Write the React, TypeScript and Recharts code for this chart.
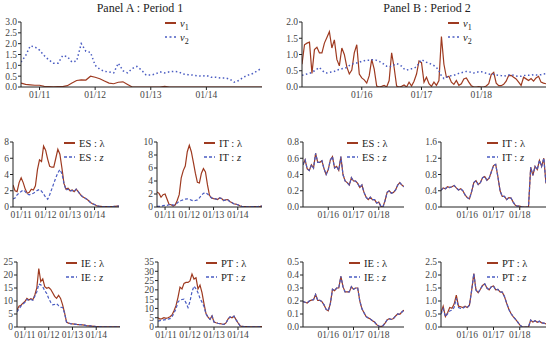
import React from "react";
import { LineChart, Line, XAxis, YAxis } from "recharts";

// Period 1: monthly points from Sep 2010; Period 2: from Jan 2015
const P1_START = 2010 + 8 / 12;
const P1_END = 2015;
const P2_START = 2015;

const P1_TICKS = [2011, 2012, 2013, 2014];
const P2_TICKS = [2016, 2017, 2018];

// Panel A, top: v1 / v2 (monthly)
const A_V1 = [
  0.18, 0.12, 0.1, 0.08, 0.08, 0.03, 0.02, 0.01, 0.02, 0.02,
  0.06, 0.18, 0.3, 0.33, 0.32, 0.5, 0.45, 0.38, 0.28, 0.18,
  0.15, 0.22, 0.24, 0.12, 0, 0, 0, 0, 0, 0,
  0, 0.03, 0, 0, 0, 0, 0, 0, 0, 0,
  0, 0, 0, 0, 0, 0, 0, 0, 0, 0,
  0, 0, 0,
];
const A_V2 = [
  1.15, 1.45, 1.9, 1.85, 1.7, 1.45, 1.25, 1.1, 1.1, 1.45,
  1.4, 1.15, 1.2, 2.0, 1.65, 1.6, 1.0, 0.82, 0.72, 0.7,
  0.65, 1.1, 0.75, 0.65, 0.85, 0.95, 0.78, 0.55, 0.55, 0.6,
  0.7, 0.65, 0.7, 0.72, 0.7, 0.6, 0.57, 0.55, 0.52, 0.5,
  0.53, 0.45, 0.45, 0.42, 0.42, 0.37, 0.22, 0.3, 0.45, 0.55,
  0.62, 0.75, 0.88,
];

// Panel B, top: v1 / v2 (twice a month)
const B_V1 = [
  0.7, 1.3, 1.35, 1.38, 0.42, 1.15, 1.22, 1.05, 1.05, 1.35,
  1.52, 1.7, 1.2, 1.45, 0.85, 0.65, 1.2, 1.0, 0.62, 0.4,
  0.52, 1.05, 1.3, 0.4, 0.28, 0.22, 0.12, 0.35, 0.85, 0.55,
  0.03, 0.0, 0.02, 0.05, 0.0, 0.2, 1.05, 0.6, 0.03, 0.0,
  0.02, 0.06, 0.0, 0.15, 0.03, 0.18, 0.4, 0.8, 0.75, 0.15,
  0.3, 0.1, 0.02, 0.15, 0.05, 0.2, 1.55, 0.7, 0.3, 0.33,
  0.15, 0.08, 0.2, 0.05, 0.1, 0.25, 0.28, 0.15, 0.04, 0.0,
  0.0, 0.01, 0.0, 0.0, 0.03, 0.1, 0.38, 0.45, 0.12, 0.04,
  0.04, 0.08, 0.18, 0.35, 0.36, 0.3, 0.25, 0.15, 0.05, 0.3,
  0.25, 0.2, 0.26, 0.18, 0.28, 0.33, 0.15, 0.12, 0.1,
];
const B_V2 = [
  0.36, 0.38, 0.4, 0.42, 0.45, 0.5, 0.55, 0.6, 0.52, 0.45,
  0.43, 0.45, 0.46, 0.48, 0.52, 0.54, 0.56, 0.58, 0.6, 0.66,
  0.7, 0.73, 0.74, 0.76, 0.79, 0.81, 0.82, 0.82, 0.84, 0.84,
  0.82, 0.79, 0.74, 0.7, 0.64, 0.62, 0.64, 0.68, 0.72, 0.69,
  0.64, 0.56, 0.52, 0.54, 0.56, 0.58, 0.62, 0.74, 0.84, 0.8,
  0.76, 0.73, 0.7, 0.66, 0.6, 0.5, 0.34, 0.26, 0.3, 0.33,
  0.35, 0.36, 0.39, 0.42, 0.44, 0.46, 0.48, 0.47, 0.45, 0.43,
  0.45, 0.47, 0.47, 0.45, 0.42, 0.4, 0.39, 0.39, 0.37, 0.36,
  0.35, 0.33, 0.35, 0.37, 0.38, 0.36, 0.34, 0.33, 0.33, 0.35,
  0.36, 0.36, 0.36, 0.38, 0.37, 0.37, 0.38, 0.4, 0.41,
];

// Period 1 countries (monthly): lambda and z
const ES_L1 = [
  2.7, 2.0, 1.9, 3.0, 3.6, 3.0, 2.2, 1.7, 1.8, 2.2,
  2.1, 2.6, 4.6, 5.8, 5.6, 7.5, 7.0, 5.9, 5.0, 4.9,
  4.9, 6.0, 7.1, 6.5, 4.8, 2.9, 2.2, 2.3, 2.0, 2.1,
  1.9, 2.2, 1.9, 1.55, 1.3, 1.15, 1.0, 0.8, 0.55, 0.4,
  0.3, 0.15, 0.1, 0.08, 0.05, 0.04, 0.04, 0.05, 0.05, 0.06,
  0.08, 0.1, 0.1,
];
const ES_Z1 = [
  1.0, 1.1, 1.5, 1.7, 1.9, 2.1, 1.9, 1.6, 1.5, 1.6,
  1.7, 1.85, 2.05, 2.15, 1.95, 1.6, 1.2, 0.95, 1.5, 2.2,
  2.9, 3.6, 4.2, 4.6, 4.1, 2.9, 2.1, 2.2, 1.95, 2.05,
  1.9, 2.2, 1.9, 1.5, 1.3, 1.15, 1.0, 0.8, 0.55, 0.4,
  0.3, 0.15, 0.1, 0.08, 0.05, 0.04, 0.04, 0.05, 0.05, 0.06,
  0.08, 0.1, 0.1,
];
const IT_L1 = [
  2.3, 2.1, 1.5, 1.9, 2.0, 1.2, 0.4, 0.35, 0.15, 0.3,
  1.0, 1.9, 4.5, 5.6, 6.3, 8.5, 9.5, 8.5, 6.9, 5.2,
  3.8, 3.7, 5.2, 5.9, 5.4, 3.4, 1.8, 1.4, 1.3, 1.25,
  1.15, 1.4, 1.3, 1.0, 1.1, 1.15, 0.85, 0.7, 0.5, 0.45,
  0.35, 0.2, 0.1, 0.05, 0.05, 0.04, 0.04, 0.05, 0.05, 0.06,
  0.08, 0.1, 0.15,
];
const IT_Z1 = [
  0.1, 0.1, 0.1, 0.2, 0.25, 0.26, 0.35, 0.38, 0.3, 0.35,
  0.6, 0.9, 1.0, 1.1, 1.2, 1.25, 1.2, 1.05, 0.95, 1.0,
  1.1, 1.4, 1.8, 2.1, 2.2, 2.0, 1.7, 1.4, 1.3, 1.25,
  1.15, 1.4, 1.3, 1.0, 1.1, 1.15, 0.85, 0.7, 0.5, 0.45,
  0.35, 0.2, 0.1, 0.05, 0.05, 0.04, 0.04, 0.05, 0.05, 0.06,
  0.08, 0.1, 0.15,
];
const IE_L1 = [
  6.5, 8.0, 8.4, 9.2, 9.8, 11.0, 10.4, 10.9, 10.5, 12.3,
  15.0, 22.5, 17.5, 18.5, 15.5, 14.9, 15.2, 14.5, 13.2, 11.8,
  11.0, 12.2, 11.0, 8.6, 5.5, 1.9, 1.5, 1.3, 1.2, 1.1,
  1.0, 0.95, 0.9, 0.85, 0.7, 0.55, 0.45, 0.4, 0.3, 0.25,
  0.2, 0.15, 0.12, 0.1, 0.1, 0.08, 0.08, 0.1, 0.1, 0.1,
  0.1, 0.1, 0.1,
];
const IE_Z1 = [
  5.8, 7.0, 8.0, 8.8, 9.5, 10.6, 10.2, 10.6, 10.3, 11.8,
  13.5, 16.5, 16.2, 15.5, 14.0, 12.9, 11.0, 9.5, 8.5, 8.7,
  9.0, 8.2, 7.6, 7.5, 5.4, 1.9, 1.5, 1.3, 1.2, 1.1,
  1.0, 0.95, 0.9, 0.85, 0.7, 0.55, 0.45, 0.4, 0.3, 0.25,
  0.2, 0.15, 0.12, 0.1, 0.1, 0.08, 0.08, 0.1, 0.1, 0.1,
  0.1, 0.1, 0.1,
];
const PT_L1 = [
  5.0, 4.3, 4.5, 5.0, 4.7, 5.0, 5.5, 6.5, 8.8, 11.5,
  16.0, 21.5, 20.5, 23.5, 24.0, 24.0, 24.8, 28.5, 25.8, 26.5,
  20.5, 22.5, 18.5, 12.5, 7.2, 5.3, 4.2, 6.0, 2.7, 2.3,
  2.0, 1.8, 1.6, 1.45, 2.2, 4.2, 5.4, 5.0, 5.8, 4.0,
  2.3, 0.7, 0.3, 0.2, 0.15, 0.15, 0.1, 0.1, 0.1, 0.12,
  0.12, 0.15, 0.15,
];
const PT_Z1 = [
  3.2, 3.4, 3.6, 3.8, 4.0, 4.2, 4.5, 5.5, 7.5, 9.8,
  13.5, 14.5, 14.8, 15.0, 13.0, 10.5, 13.8, 19.0, 22.0, 20.5,
  18.5, 15.4, 13.4, 11.0, 7.0, 5.3, 4.2, 6.0, 2.7, 2.3,
  2.0, 1.8, 1.6, 1.45, 2.2, 4.2, 5.4, 5.0, 5.8, 4.0,
  2.3, 0.7, 0.3, 0.2, 0.15, 0.15, 0.1, 0.1, 0.1, 0.12,
  0.12, 0.15, 0.15,
];

// Period 2 countries (monthly); lambda and z lie on top of each other here
const ES_L2 = [
  0.52, 0.58, 0.47, 0.45, 0.52, 0.48, 0.66, 0.55, 0.55, 0.57,
  0.47, 0.4, 0.46, 0.58, 0.62, 0.48, 0.5, 0.45, 0.62, 0.4,
  0.32, 0.3, 0.27, 0.36, 0.32, 0.32, 0.29, 0.24, 0.27, 0.18,
  0.12, 0.09, 0.12, 0.09, 0.09, 0.05, 0.06, 0.01, 0.0, 0.08,
  0.18, 0.2, 0.17, 0.18, 0.21, 0.27, 0.3, 0.27, 0.25,
];
const ES_Z2 = ES_L2;
const IT_L2 = [
  0.41, 0.47, 0.45, 0.5, 0.48, 0.5, 0.53, 0.47, 0.42, 0.45,
  0.4, 0.3, 0.23, 0.2, 0.38, 0.6, 0.65, 0.55, 0.6, 0.72,
  0.75, 0.66, 0.71, 0.86, 1.02, 1.05, 0.75, 0.4, 0.26, 0.26,
  0.18, 0.23, 0.22, 0.12, 0.04, 0.02, 0.02, 0, 0, 0,
  0, 0.98, 0.78, 1.0, 0.92, 1.15, 1.0, 1.2, 0.58,
];
const IT_Z2 = IT_L2;
const IE_L2 = [
  0.195, 0.19, 0.185, 0.2, 0.207, 0.21, 0.25, 0.205, 0.205, 0.195,
  0.17, 0.135, 0.125, 0.18, 0.29, 0.28, 0.3, 0.3, 0.39, 0.31,
  0.27, 0.27, 0.27, 0.31, 0.29, 0.3, 0.3, 0.2, 0.14, 0.11,
  0.08, 0.07, 0.062, 0.048, 0.038, 0.018, 0.008, 0.003, 0.01, 0.03,
  0.055, 0.064, 0.058, 0.066, 0.085, 0.1, 0.098, 0.115, 0.13,
];
const IE_Z2 = IE_L2;
const PT_L2 = [
  0.55, 0.8, 0.4, 0.55, 0.75, 0.72, 0.88, 1.23, 0.8, 0.78,
  0.75, 0.8, 0.75, 0.84, 1.4, 2.05, 1.42, 1.32, 1.45, 1.6,
  1.66, 1.5, 1.43, 1.55, 1.58, 1.43, 1.45, 1.35, 1.34, 1.17,
  0.92, 0.68, 0.52, 0.4, 0.3, 0.2, 0.08, 0.01, 0, 0,
  0, 0.27, 0.19, 0.24, 0.18, 0.22, 0.16, 0.15, 0.12,
];
const PT_Z2 = [
  0.5, 0.7, 0.4, 0.5, 0.62, 0.65, 0.75, 1.1, 0.75, 0.72,
  0.72, 0.78, 0.75, 0.84, 1.4, 2.05, 1.42, 1.32, 1.45, 1.6,
  1.66, 1.5, 1.43, 1.55, 1.58, 1.43, 1.45, 1.35, 1.34, 1.17,
  0.92, 0.68, 0.52, 0.4, 0.3, 0.2, 0.08, 0.01, 0, 0,
  0, 0.27, 0.19, 0.24, 0.18, 0.22, 0.16, 0.15, 0.12,
];

const RED = "#9e3a20";
const BLUE = "#4a5cc2";
const FONT = "Liberation Serif, DejaVu Serif, serif";
const TICK = { fontSize: 9.5, fill: "#444", fontFamily: FONT };

function rows(start: number, perYear: number, a: number[], b: number[]) {
  return a.map((v, i) => ({ t: start + i / perYear, a: v, b: b[i] }));
}

const yearLabel = (v: number) => "01/" + String(v % 100).padStart(2, "0");

interface PanelProps {
  left: number;
  top: number;
  w: number;
  h: number;
  data: { t: number; a: number; b: number }[];
  xDomain: [number, number];
  xTicks: number[];
  yTicks: number[];
  digits: number;
  bDash: string;
  bWidth: number;
}

const YW = 30;
const MT = 8;

function Panel(p: PanelProps) {
  const yMax = p.yTicks[p.yTicks.length - 1];
  return (
    <div style={{ position: "absolute", left: p.left - YW, top: p.top - MT }}>
      <LineChart
        width={YW + p.w + 8}
        height={MT + p.h + 24}
        data={p.data}
        margin={{ top: MT, right: 8, bottom: 0, left: 0 }}
        style={{ fontFamily: FONT }}
      >
        <XAxis
          dataKey="t"
          type="number"
          domain={p.xDomain}
          ticks={p.xTicks}
          interval={0}
          tickFormatter={yearLabel}
          height={24}
          tickSize={3}
          tickMargin={1}
          stroke="#222"
          tick={TICK}
          allowDataOverflow
        />
        <YAxis
          type="number"
          domain={[0, yMax]}
          ticks={p.yTicks}
          interval={0}
          width={YW}
          tickSize={3}
          tickMargin={1}
          stroke="#222"
          tickFormatter={(v: number) => v.toFixed(p.digits)}
          tick={TICK}
          allowDataOverflow
        />
        <Line
          dataKey="a"
          type="linear"
          stroke={RED}
          strokeWidth={1.2}
          dot={false}
          isAnimationActive={false}
        />
        <Line
          dataKey="b"
          type="linear"
          stroke={BLUE}
          strokeWidth={p.bWidth}
          strokeDasharray={p.bDash}
          dot={false}
          isAnimationActive={false}
        />
      </LineChart>
    </div>
  );
}

function Key({ x, y, items }: { x: number; y: number; items: { label: React.ReactNode; dash?: string; color: string; w: number }[] }) {
  return (
    <svg
      style={{ position: "absolute", left: x, top: y - 8, overflow: "visible", fontFamily: FONT }}
      width={70}
      height={30}
    >
      {items.map((it, i) => (
        <g key={i} transform={`translate(0, ${8 + i * 14})`}>
          <line x1={0} x2={11} y1={0} y2={0} stroke={it.color} strokeWidth={it.w} strokeDasharray={it.dash} />
          <text x={15} y={3.5} fontSize={10.5} fontFamily={FONT} fill="#222">
            {it.label}
          </text>
        </g>
      ))}
    </svg>
  );
}

const vKey = (n: string) => (
  <>
    <tspan fontStyle="italic">v</tspan>
    <tspan dy={3} fontSize={8}>{n}</tspan>
  </>
);

function countryKey(c: string) {
  return [
    { label: <>{c} : λ</>, color: RED, w: 2 },
    { label: <>{c} : <tspan fontStyle="italic">z</tspan></>, color: BLUE, w: 1.5, dash: "3 2" },
  ];
}

const P1_DOM: [number, number] = [P1_START, P1_END];
const P2_DOM_TOP: [number, number] = [P2_START, 2019 + 1 / 12];
const P2_DOM: [number, number] = [P2_START, 2019];

export default function App() {
  const dot = "1.5 2.5";
  const dash = "3 2";
  return (
    <div
      style={{
        position: "absolute",
        left: 0,
        top: 0,
        width: 550,
        height: 343,
        background: "#fff",
        overflow: "hidden",
        fontFamily: FONT,
      }}
    >
      <div style={{ position: "absolute", left: 40, width: 200, top: 1, textAlign: "center", fontSize: 12, color: "#222" }}>
        Panel A : Period 1
      </div>
      <div style={{ position: "absolute", left: 327, width: 200, top: 1, textAlign: "center", fontSize: 12, color: "#222" }}>
        Panel B : Period 2
      </div>

      <Panel left={21} top={22} w={241} h={65} data={rows(P1_START, 12, A_V1, A_V2)}
        xDomain={P1_DOM} xTicks={P1_TICKS} yTicks={[0, 0.5, 1, 1.5, 2, 2.5, 3]} digits={1} bDash={dot} bWidth={1.5} />
      <Panel left={302} top={22} w={244} h={65} data={rows(P2_START, 24, B_V1, B_V2)}
        xDomain={P2_DOM_TOP} xTicks={P2_TICKS} yTicks={[0, 0.5, 1, 1.5, 2]} digits={1} bDash={dot} bWidth={1.5} />

      <Panel left={13} top={142} w={106} h={65} data={rows(P1_START, 12, ES_L1, ES_Z1)}
        xDomain={P1_DOM} xTicks={P1_TICKS} yTicks={[0, 2, 4, 6, 8]} digits={0} bDash={dash} bWidth={1.2} />
      <Panel left={157} top={142} w={105} h={65} data={rows(P1_START, 12, IT_L1, IT_Z1)}
        xDomain={P1_DOM} xTicks={P1_TICKS} yTicks={[0, 2, 4, 6, 8, 10]} digits={0} bDash={dash} bWidth={1.2} />
      <Panel left={303} top={142} w={101} h={65} data={rows(P2_START, 12, ES_L2, ES_Z2)}
        xDomain={P2_DOM} xTicks={P2_TICKS} yTicks={[0, 0.2, 0.4, 0.6, 0.8]} digits={1} bDash={dash} bWidth={1.2} />
      <Panel left={441} top={142} w={105} h={65} data={rows(P2_START, 12, IT_L2, IT_Z2)}
        xDomain={P2_DOM} xTicks={P2_TICKS} yTicks={[0, 0.4, 0.8, 1.2, 1.6]} digits={1} bDash={dash} bWidth={1.2} />

      <Panel left={17} top={262} w={103} h={65} data={rows(P1_START, 12, IE_L1, IE_Z1)}
        xDomain={P1_DOM} xTicks={P1_TICKS} yTicks={[0, 5, 10, 15, 20, 25]} digits={0} bDash={dash} bWidth={1.2} />
      <Panel left={158} top={262} w={104} h={65} data={rows(P1_START, 12, PT_L1, PT_Z1)}
        xDomain={P1_DOM} xTicks={P1_TICKS} yTicks={[0, 5, 10, 15, 20, 25, 30, 35]} digits={0} bDash={dash} bWidth={1.2} />
      <Panel left={303} top={262} w={101} h={65} data={rows(P2_START, 12, IE_L2, IE_Z2)}
        xDomain={P2_DOM} xTicks={P2_TICKS} yTicks={[0, 0.1, 0.2, 0.3, 0.4, 0.5]} digits={1} bDash={dash} bWidth={1.2} />
      <Panel left={441} top={262} w={105} h={65} data={rows(P2_START, 12, PT_L2, PT_Z2)}
        xDomain={P2_DOM} xTicks={P2_TICKS} yTicks={[0, 0.5, 1, 1.5, 2, 2.5]} digits={1} bDash={dash} bWidth={1.2} />

      <Key x={165} y={23} items={[
        { label: vKey("1"), color: RED, w: 2 },
        { label: vKey("2"), color: BLUE, w: 1.5, dash: "2 2.5" },
      ]} />
      <Key x={448} y={23} items={[
        { label: vKey("1"), color: RED, w: 2 },
        { label: vKey("2"), color: BLUE, w: 1.5, dash: "2 2.5" },
      ]} />
      <Key x={64} y={143} items={countryKey("ES")} />
      <Key x={204} y={143} items={countryKey("IT")} />
      <Key x={347} y={143} items={countryKey("ES")} />
      <Key x={487} y={143} items={countryKey("IT")} />
      <Key x={66} y={263} items={countryKey("IE")} />
      <Key x={206} y={263} items={countryKey("PT")} />
      <Key x={349} y={263} items={countryKey("IE")} />
      <Key x={487} y={263} items={countryKey("PT")} />
    </div>
  );
}
